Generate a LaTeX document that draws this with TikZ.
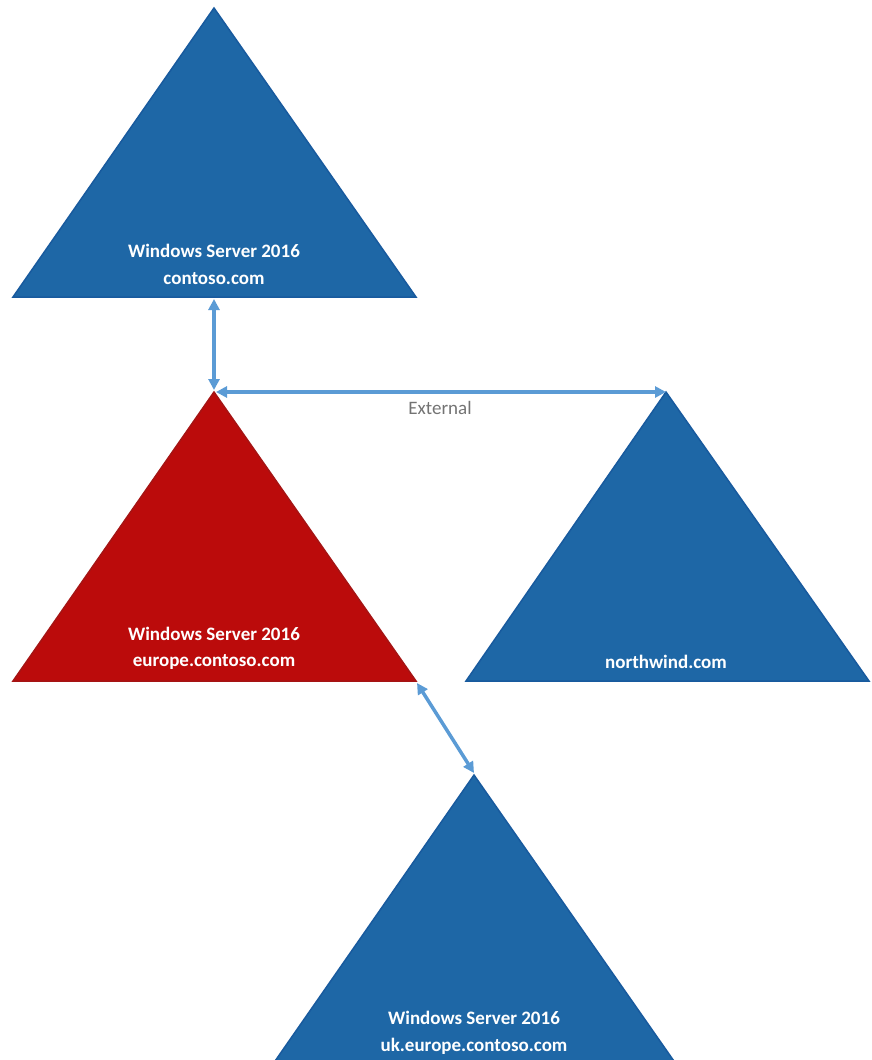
\documentclass[tikz,border=0pt]{standalone}
\usepackage{fontspec}
\setmainfont{Carlito}
\usetikzlibrary{arrows.meta}
\definecolor{triblue}{RGB}{30,103,166}
\definecolor{triblueedge}{RGB}{24,90,158}
\definecolor{trired}{RGB}{187,11,11}
\definecolor{triredge}{RGB}{165,20,20}
\definecolor{arrowblue}{RGB}{91,155,213}
\definecolor{labelgray}{RGB}{115,115,115}
\tikzset{
  domainblue/.style={fill=triblue, draw=triblueedge, line width=1.5pt, line join=miter},
  domainred/.style={fill=trired, draw=triredge, line width=1.5pt, line join=miter},
  domaintext/.style={text=white, font=\fontsize{19}{28}\selectfont\bfseries, align=center, inner sep=0pt},
  trustarrow/.style={draw=arrowblue, line width=3.5pt, {Triangle[length=11pt,width=11pt]}-{Triangle[length=11pt,width=11pt]}},
  trustlabel/.style={text=labelgray, font=\fontsize{19}{22}\selectfont, inner sep=0pt}
}
\begin{document}
\begin{tikzpicture}[x=1pt,y=-1pt]
\useasboundingbox (0,0) rectangle (871,1060);
\clip (0,0) rectangle (871,1060);
% corners
\coordinate (aTop) at (214,8);
\coordinate (lTop) at (13,297);
\coordinate (rTop) at (416,297);
\coordinate (aEu) at (214,392);
\coordinate (lEu) at (13,681);
\coordinate (rEu) at (416,681);
\coordinate (aNw) at (666,392);
\coordinate (lNw) at (466,681);
\coordinate (rNw) at (869,681);
\coordinate (aUk) at (474,775);
\coordinate (lUk) at (273,1064);
\coordinate (rUk) at (676,1064);
% triangles
\draw[domainblue] (aTop) -- (rTop) -- (lTop) -- cycle;
\draw[domainred] (aEu) -- (rEu) -- (lEu) -- cycle;
\draw[domainblue] (aNw) -- (rNw) -- (lNw) -- cycle;
\draw[domainblue] (aUk) -- (rUk) -- (lUk) -- cycle;
% labels
\node[domaintext] (tTop1) at (214,251) {Windows Server 2016};
\node[domaintext] (tTop2) at (214,279) {contoso.com};
\node[domaintext] (tEu1) at (214,634) {Windows Server 2016};
\node[domaintext] (tEu2) at (214,662) {europe.contoso.com};
\node[domaintext] (tNw) at (666,662) {northwind.com};
\node[domaintext] (tUk1) at (474,1018) {Windows Server 2016};
\node[domaintext] (tUk2) at (474,1046) {uk.europe.contoso.com};
% connectors
\coordinate (cTopBase) at (214,299);
\coordinate (cEuTop) at (214,390);
\draw[trustarrow] (cTopBase) -- (cEuTop);
\coordinate (cEuRight) at (216,392);
\draw[trustarrow] (cEuRight) -- (aNw);
\coordinate (cEuCorner) at (417,683);
\coordinate (cUkTop) at (474,773);
\draw[trustarrow] (cEuCorner) -- (cUkTop);
\node[trustlabel] (lExt) at (440,408) {External};
\end{tikzpicture}
\end{document}
